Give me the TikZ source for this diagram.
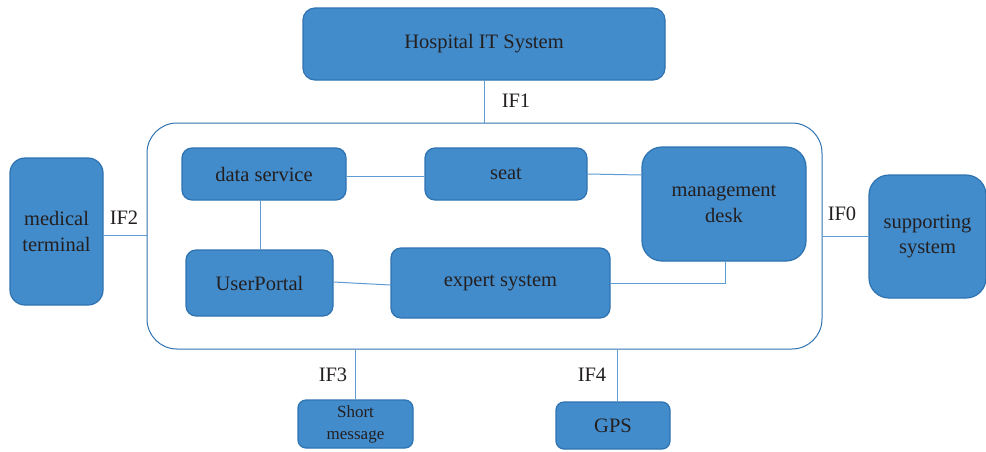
\documentclass[tikz,border=0pt]{standalone}
\usepackage{fontspec}
\setmainfont{Liberation Serif}
\usepackage{tikz}
\usetikzlibrary{positioning}
\definecolor{boxfill}{HTML}{438CCB}
\definecolor{boxframe}{HTML}{2E72B0}
\definecolor{linkblue}{HTML}{5C9BD3}
\definecolor{textdark}{HTML}{231F20}

\begin{document}
\begin{tikzpicture}[
    x=1pt, y=-1pt,
    every node/.style={font=\fontsize{20.5}{25.5}\selectfont, text=textdark},
    unit/.style={
        rectangle,
        rounded corners=12pt,
        draw=boxframe,
        fill=boxfill,
        line width=1.2pt,
        inner sep=0pt,
        align=center
    },
    link/.style={draw=linkblue, line width=1pt},
    iflabel/.style={inner sep=1pt}
]
    \useasboundingbox (0,0) rectangle (986,451);

    % === TOP: hospital system ===
    \node[unit, minimum width=362pt, minimum height=72pt] (hospital) at (484,44) {Hospital IT System};

    % === PLATFORM FRAME ===
    \node[draw=boxframe, line width=1pt, rounded corners=30pt, minimum width=675pt, minimum height=226pt] (platform) at (484.5,236) {};

    % Modules inside
    \node[unit, rounded corners=10pt, minimum width=164pt, minimum height=52pt] (dataservice) at (264,174) {data service};
    \node[unit, rounded corners=10pt, minimum width=162pt, minimum height=52pt] (seat) at (506,174) {seat};
    \node[unit, rounded corners=20pt, minimum width=164pt, minimum height=114pt] (desk) at (724,204) {management\\desk};
    \node[unit, rounded corners=10pt, minimum width=147pt, minimum height=66pt] (userportal) at (259.5,283) {UserPortal};
    \node[unit, rounded corners=10pt, minimum width=219pt, minimum height=70pt] (expert) at (500.5,283) {expert system};

    % Module links
    \draw[link] (dataservice.east |- 0,176) -- (seat.west |- 0,176);
    \draw[link] (seat.east |- 0,174) -- (desk.west |- 0,175);
    \draw[link] (dataservice.south -| 260,0) -- (userportal.north -| 260,0);
    \draw[link] (userportal.east |- 0,282) -- (expert.west |- 0,285);
    \draw[link] (expert.east |- 0,283) -| (desk.south -| 725,0);

    % === OUTSIDE UNITS ===
    \node[unit, rounded corners=15pt, minimum width=93pt, minimum height=147pt] (terminal) at (56.5,231.5) {medical\\terminal};
    \node[unit, rounded corners=20pt, minimum width=117pt, minimum height=123pt] (support) at (927.5,236.5) {supporting\\system};
    \node[unit, rounded corners=8pt, minimum width=115pt, minimum height=48pt,
          font=\fontsize{17}{22}\selectfont] (sms) at (355.5,424) {Short\\message};
    \node[unit, rounded corners=8pt, minimum width=114pt, minimum height=47pt] (gps) at (613,425.5) {GPS};

    % Interfaces
    \draw[link] (hospital.south) -- (platform.north -| hospital.south);
    \node[iflabel] (if1) at (516,101) {IF1};

    \draw[link] (terminal.east |- 0,235) -- (platform.west |- 0,235);
    \node[iflabel] (if2) at (124,218) {IF2};

    \draw[link] (platform.east |- 0,236) -- (support.west |- 0,236);
    \node[iflabel] (if0) at (842,214) {IF0};

    \draw[link] (platform.south -| 355,0) -- (sms.north -| 355,0);
    \node[iflabel] (if3) at (333,375) {IF3};

    \draw[link] (platform.south -| 617,0) -- (gps.north -| 617,0);
    \node[iflabel] (if4) at (592,375) {IF4};
\end{tikzpicture}
\end{document}
